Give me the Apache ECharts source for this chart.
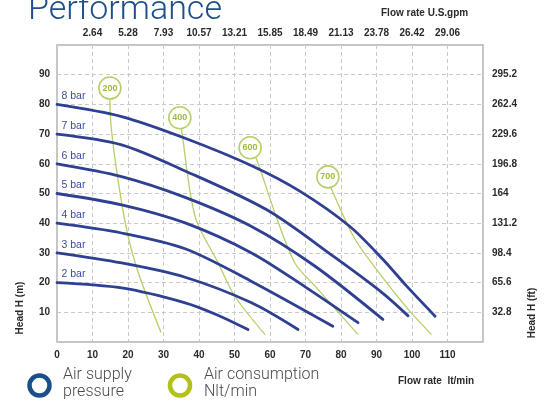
<!DOCTYPE html>
<html>
<head>
<meta charset="utf-8">
<script src="https://cdn.jsdelivr.net/npm/echarts@6/dist/echarts.min.js"></script>
<style>
html,body{margin:0;padding:0;background:#fff;}
#chart{width:555px;height:404px;}
</style>
</head>
<body>
<div id="chart"></div>
<script>
// ---- data ----
var pressureNames = ['2 bar','3 bar','4 bar','5 bar','6 bar','7 bar','8 bar'];
var bar2 = [[0,20],[18.2,18.2],[36.1,13.2],[45,9.2],[53.8,4.2]];
var bar3 = [[0,30],[18.2,26.6],[36.1,21.8],[54.8,13.2],[67.9,4.2]];
var bar4 = [[0,40],[18.2,36.7],[36.1,31.4],[54.8,20.4],[77.7,5.3]];
var bar5 = [[0,50],[18.2,46.2],[36.1,40.1],[54.8,30.0],[70,18.5],[84.8,6.5]];
var bar6 = [[0,60],[18.2,55.7],[36.1,48.7],[54.8,38.9],[72.7,25.5],[91.8,7.6]];
var bar7 = [[0,70],[18.2,66.4],[36.1,57.6],[59.1,44.5],[77.9,28.8],[91.9,16.3],[98.9,8.8]];
var bar8 = [[0,80],[18.2,75.9],[36.1,68.6],[55.3,59.1],[68.5,50.7],[82.5,38.9],[91.9,27.7],[98.5,18.8],[106.5,8.7]];
var pressureCurves = [bar2,bar3,bar4,bar5,bar6,bar7,bar8];

var consumptionNames = ['200','400','600','700'];
var air200 = [[14.9,85.5],[14.9,80.5],[18.2,46.9],[22.0,26.7],[29.3,3.2]];
var air400 = [[34.6,75.5],[35.1,71.4],[38.9,42.3],[45.4,26.6],[50.1,15.4],[58.6,2.5]];
var air600 = [[54.4,65.4],[56.3,61.3],[61.4,43.4],[67.0,26.6],[72.7,18.8],[84.8,2.5]];
var air700 = [[76.3,55.6],[77.4,51.3],[84.0,34.5],[91.5,22.1],[99.0,10.9],[105.5,2.5]];
var consumptionCurves = [air200,air400,air600,air700];

var gpmLabels = ['2.64','5.28','7.93','10.57','13.21','15.85','18.49','21.13','23.78','26.42','29.06'];
var headFtLabels = ['32.8','65.6','98.4','131.2','164','196.8','229.6','262.4','295.2'];

// ---- styles ----
var BLUE = '#2f3f92';
var GREEN = '#b7cf68';
var GREEN_TXT = '#9dbb3c';
var AXIS_TXT = {color:'#2a2a2a', fontSize:10, fontWeight:'bold', fontFamily:'Liberation Sans, Arial, sans-serif'};
var grayDash = {color:'#c9c9c9', width:1, type:[4,3]};

var series = [];
consumptionCurves.forEach(function(curve, i){
  series.push({
    type:'line', xAxisIndex:0, yAxisIndex:0, clip:false, z:2,
    symbol:'none', smooth:0.3,
    lineStyle:{color:GREEN, width:1.3},
    data: curve.map(function(p, j){
      if (j === 0) {
        return {value:p, symbol:'circle', symbolSize:22,
          itemStyle:{color:'#fff', borderColor:GREEN, borderWidth:1.6},
          label:{show:true, position:'inside', formatter:consumptionNames[i],
            color:GREEN_TXT, fontSize:9, fontWeight:'bold', fontFamily:'Liberation Sans, Arial, sans-serif'}};
      }
      return {value:p};
    })
  });
});
pressureCurves.forEach(function(curve, i){
  series.push({
    type:'line', xAxisIndex:0, yAxisIndex:0, clip:false, z:3,
    symbol:'none', smooth:0.3,
    lineStyle:{color:BLUE, width:2.8, cap:'round'},
    data: curve.map(function(p, j){
      if (j === 0) {
        return {value:p, symbol:'circle', symbolSize:1,
          itemStyle:{color:'rgba(0,0,0,0)'},
          label:{show:true, position:[5,-13], formatter:pressureNames[i],
            color:'#3a4c9e', fontSize:10.5, fontFamily:'Liberation Sans, Arial, sans-serif'}};
      }
      return {value:p};
    })
  });
});

var chart = echarts.init(document.getElementById('chart'));
chart.setOption({
  animation:false,
  backgroundColor:'#fff',
  grid:{left:57, right:72, top:45, bottom:62, show:true, borderColor:'#b3b3b3', borderWidth:1.5},
  xAxis:[
    {type:'value', position:'bottom', min:0, max:120, interval:10,
     axisLine:{show:false}, axisTick:{show:false},
     splitLine:{show:true, lineStyle:grayDash},
     axisLabel:Object.assign({margin:8, formatter:function(v){return v>110?'':String(v);}}, AXIS_TXT)},
    {type:'value', position:'top', min:0, max:120, interval:10,
     axisLine:{show:false}, axisTick:{show:false}, splitLine:{show:false},
     axisLabel:Object.assign({margin:7, formatter:function(v){var k=v/10-1; return (k>=0&&k<gpmLabels.length)?gpmLabels[k]:'';}}, AXIS_TXT)}
  ],
  yAxis:[
    {type:'value', position:'left', min:0, max:100, interval:10,
     axisLine:{show:false}, axisTick:{show:false},
     splitLine:{show:true, lineStyle:grayDash},
     axisLabel:Object.assign({margin:7, formatter:function(v){return (v===0||v===100)?'':String(v);}}, AXIS_TXT)},
    {type:'value', position:'right', min:0, max:100, interval:10,
     axisLine:{show:false}, axisTick:{show:false}, splitLine:{show:false},
     axisLabel:Object.assign({margin:9, formatter:function(v){var k=v/10-1; return (k>=0&&k<headFtLabels.length)?headFtLabels[k]:'';}}, AXIS_TXT)}
  ],
  series:series,
  graphic:[
    {type:'text', left:28, top:-7, style:{text:'Performance', fill:'#1e4f8c', font:'300 34px Roboto, "Liberation Sans", sans-serif'}},
    {type:'text', left:381, top:8, style:{text:'Flow rate U.S.gpm', fill:'#2a2a2a', font:'bold 10px "Liberation Sans", Arial, sans-serif'}},
    {type:'text', left:398, top:376, style:{text:'Flow rate  lt/min', fill:'#2a2a2a', font:'bold 10px "Liberation Sans", Arial, sans-serif'}},
    {type:'text', x:20, y:308, rotation:Math.PI/2, style:{text:'Head H (m)', fill:'#2a2a2a', align:'center', verticalAlign:'middle', font:'bold 10px "Liberation Sans", Arial, sans-serif'}},
    {type:'text', x:532, y:313, rotation:Math.PI/2, style:{text:'Head H (ft)', fill:'#2a2a2a', align:'center', verticalAlign:'middle', font:'bold 10px "Liberation Sans", Arial, sans-serif'}},
    {type:'circle', shape:{cx:39.5, cy:385.5, r:10}, style:{fill:'none', stroke:'#1b4f8a', lineWidth:4.5}},
    {type:'circle', shape:{cx:180, cy:385.5, r:10}, style:{fill:'none', stroke:'#b2c21a', lineWidth:4.5}},
    {type:'text', left:63, top:366, style:{text:'Air supply\npressure', fill:'#4a4a4a', lineHeight:17, font:'300 16px Roboto, "Liberation Sans", sans-serif'}},
    {type:'text', left:204, top:366, style:{text:'Air consumption\nNlt/min', fill:'#4a4a4a', lineHeight:17, font:'300 16px Roboto, "Liberation Sans", sans-serif'}}
  ]
});
</script>
</body>
</html>
